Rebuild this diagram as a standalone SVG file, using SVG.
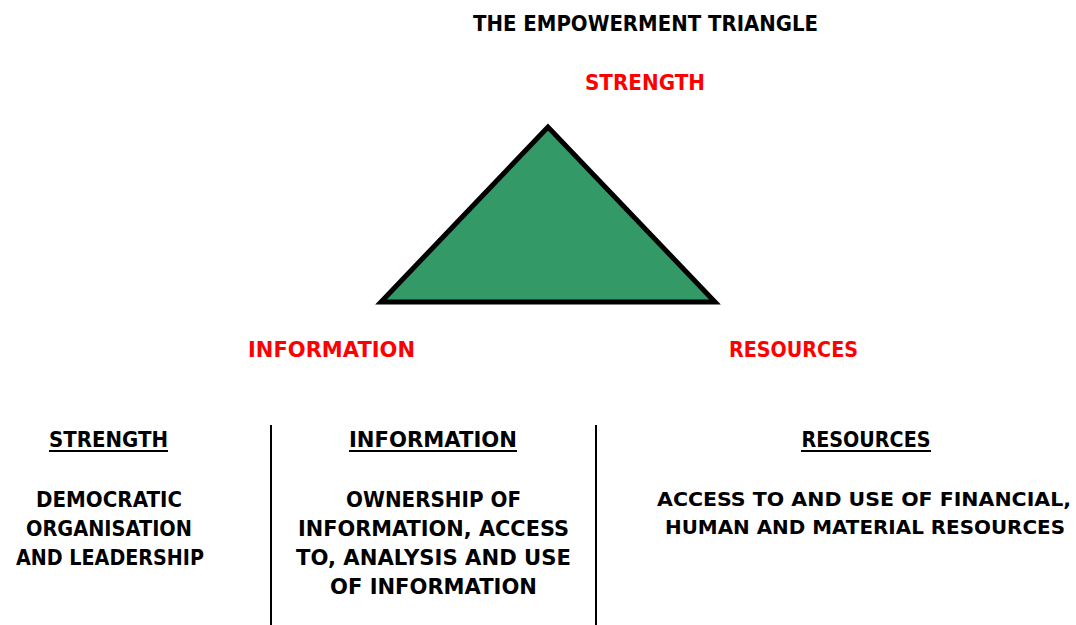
<svg xmlns="http://www.w3.org/2000/svg" width="1076" height="625" viewBox="0 0 1076 625">
<style>
text{font-family:"DejaVu Sans","Liberation Sans",sans-serif;font-weight:bold;font-size:21px;text-anchor:middle}
text.sm{font-size:20px}
.red{fill:#ff0000}
.blk{fill:#000000}
.ul{stroke:#000;stroke-width:2}
.div{stroke:#000;stroke-width:2}
</style>
<rect width="1076" height="625" fill="#ffffff"/>
<g id="title"><text class="blk" x="645.5" y="31" textLength="345" lengthAdjust="spacingAndGlyphs">THE EMPOWERMENT TRIANGLE</text></g>
<g id="triangle"><polygon points="548,127 381,302 715,302" fill="#339966" stroke="#000" stroke-width="5" stroke-linejoin="miter"/></g>
<g id="label-strength"><text class="red" x="645" y="90" textLength="120" lengthAdjust="spacingAndGlyphs">STRENGTH</text></g>
<g id="label-information"><text class="red" x="331.5" y="357" textLength="167" lengthAdjust="spacingAndGlyphs">INFORMATION</text></g>
<g id="label-resources"><text class="red" x="793.5" y="357" textLength="129" lengthAdjust="spacingAndGlyphs">RESOURCES</text></g>
<g id="connectors">
<line class="div" x1="271" y1="425" x2="271" y2="625"/>
<line class="div" x1="596" y1="425" x2="596" y2="625"/>
</g>
<g id="col-strength">
<text class="blk" x="108.5" y="447" textLength="119" lengthAdjust="spacingAndGlyphs">STRENGTH</text>
<line class="ul" x1="49" y1="451" x2="168" y2="451"/>
<text class="blk" x="109" y="507" textLength="146" lengthAdjust="spacingAndGlyphs">DEMOCRATIC</text>
<text class="blk" x="109" y="536" textLength="166" lengthAdjust="spacingAndGlyphs">ORGANISATION</text>
<text class="blk" x="110" y="565" textLength="188" lengthAdjust="spacingAndGlyphs">AND LEADERSHIP</text>
</g>
<g id="col-information">
<text class="blk" x="433" y="447" textLength="168" lengthAdjust="spacingAndGlyphs">INFORMATION</text>
<line class="ul" x1="349" y1="451" x2="517" y2="451"/>
<text class="blk" x="433.5" y="507" textLength="175" lengthAdjust="spacingAndGlyphs">OWNERSHIP OF</text>
<text class="blk" x="433.5" y="536" textLength="271" lengthAdjust="spacingAndGlyphs">INFORMATION, ACCESS</text>
<text class="blk" x="433.5" y="565" textLength="275" lengthAdjust="spacingAndGlyphs">TO, ANALYSIS AND USE</text>
<text class="blk" x="433.5" y="594" textLength="207" lengthAdjust="spacingAndGlyphs">OF INFORMATION</text>
</g>
<g id="col-resources">
<text class="blk" x="866" y="447" textLength="129" lengthAdjust="spacingAndGlyphs">RESOURCES</text>
<line class="ul" x1="801" y1="451" x2="931" y2="451"/>
<text class="blk sm" x="864" y="506" textLength="414" lengthAdjust="spacingAndGlyphs">ACCESS TO AND USE OF FINANCIAL,</text>
<text class="blk sm" x="865" y="534" textLength="400" lengthAdjust="spacingAndGlyphs">HUMAN AND MATERIAL RESOURCES</text>
</g>
</svg>
